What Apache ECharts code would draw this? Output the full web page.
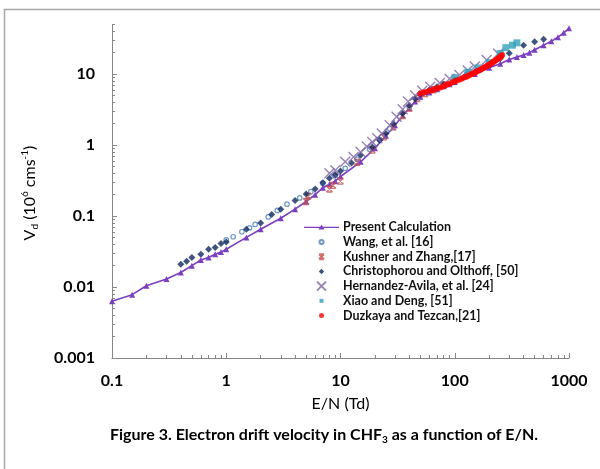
<!DOCTYPE html>
<html><head><meta charset="utf-8">
<script src="https://cdn.jsdelivr.net/npm/echarts@6/dist/echarts.min.js"></script>
<style>html,body{margin:0;padding:0;background:#fff}#c{width:600px;height:469px}</style>
</head><body><div id="c"></div>
<script>
// ---- data ----
const presentX = [0.1,0.15,0.2,0.3,0.4,0.5,0.6,0.7,0.8,0.9,1,1.5,2,3,4,5,6,7,8,9,10,15,20,25,30,35,40,45,50,60,70,80,90,100,150,200,250,300,350,400,450,500,600,700,800,900,1000];
const presentY = [0.0063,0.0078,0.0104,0.013,0.016,0.020,0.024,0.026,0.029,0.031,0.034,0.050,0.065,0.093,0.125,0.16,0.20,0.25,0.28,0.31,0.36,0.58,0.9,1.35,1.9,2.6,3.3,4.1,4.8,5.5,6.1,6.7,7.2,7.7,10.0,12.3,14,16,17.3,18.5,20,22,25.5,29,33,38,44];

const wangX = [1.0,1.15,1.37,1.6,1.79,2.33,2.8,3.4,4.4,5.5,7,9,11,14,18,22,27,33,40];
const wangY = [0.046,0.051,0.060,0.068,0.076,0.097,0.12,0.147,0.18,0.22,0.29,0.37,0.47,0.63,0.87,1.2,1.7,2.5,3.4];

const kushX = [5,5.2,8,8.6,10,14,19,24,29,35,40,47,55,65,80];
const kushY = [0.16,0.19,0.24,0.27,0.31,0.57,0.85,1.3,1.8,2.6,3.3,4.5,5.3,6.0,7.0];

const chrisX = [0.4,0.45,0.5,0.6,0.7,0.8,0.9,1.0,1.5,2,2.5,3,4,5,6,7,8,9,10,12.5,15,19,22,25,29,35,40,45,50,60,70,80,100,125,150,200,250,300,400,500,600];
const chrisY = [0.021,0.023,0.026,0.029,0.034,0.036,0.041,0.043,0.065,0.08,0.105,0.125,0.165,0.205,0.24,0.295,0.34,0.38,0.43,0.56,0.72,0.94,1.17,1.45,2.0,2.8,3.6,4.5,5.2,6.0,6.6,7.2,8.3,9.5,10.8,13.5,16.5,19.6,25.5,28.5,31];

const hernX = [8,9,11,13,15,17,19,21,23,27,31,35,39,45,52,61,74,90,110,130,150,190,240];
const hernY = [0.40,0.44,0.58,0.68,0.8,0.95,1.1,1.25,1.45,1.9,2.5,3.2,4.1,5.0,5.8,6.6,7.5,8.6,9.7,11.2,12.8,15.8,19.3];

const xiaoX = [100,130,160,200,250,280,320,350];
const xiaoY = [8.9,10.6,12.2,14.5,19.5,23.5,25.5,27.5];

const duzX = [50,53,56,60,63,66,70,74,78,82,86,90,95,100,105,110,115,120,125,130,135,140,145,150,155,160,165,170,175,180,185,190,195,200,205,210,215,220,225,230,235,240,245,250,255,260];
const duzY = [5.3,5.5,5.6,5.8,5.9,6.1,6.3,6.4,6.6,6.9,7.1,7.3,7.6,7.9,8.1,8.4,8.6,8.9,9.1,9.4,9.7,10.0,10.2,10.5,10.8,11.1,11.3,11.7,12.0,12.3,12.6,12.9,13.2,13.5,13.8,14.2,14.6,15.0,15.4,15.8,16.2,16.6,17.0,17.5,18.0,18.5];

const seriesNames = ['Present Calculation','Wang, et al. [16]','Kushner and Zhang,[17]','Christophorou and Olthoff, [50]','Hernandez-Avila, et al. [24]','Xiao and Deng, [51]','Duzkaya and Tezcan,[21]'];

const xMajor = [0.1,1,10,100,1000];
const xTickLabels = ['0.1','1','10','100','1000'];
const yMajor = [0.001,0.01,0.1,1,10];
const yTickLabels = ['0.001','0.01','0.1','1','10'];
const xMinor = [];
[0.1,1,10,100].forEach(d => { for (let k = 2; k <= 9; k++) xMinor.push(+(d*k).toPrecision(3)); });
const yMinor = [];
[0.001,0.01,0.1,1,10].forEach(d => { for (let k = 2; k <= 9; k++) { const v = +(d*k).toPrecision(3); if (v <= 50) yMinor.push(v); } });

// ---- helpers ----
const zip = (xs, ys) => xs.map((x, i) => [x, ys[i]]);
const fmt = (majors, labels) => v => {
  const i = majors.findIndex(m => Math.abs(Math.log10(m) - Math.log10(v)) < 1e-6);
  return i >= 0 ? labels[i] : '';
};
const FONT = 'Lato';
const axisGray = '#868686';
const xPath = 'path://M0,0L10,10M10,0L0,10';
const starPath = 'path://M0,0L10,10M10,0L0,10M0,0L10,0M0,10L10,10';
// legend icons drawn inside a 35x10 box (the leading moves fix the box)
const BOX = 'M0,0M35,10';
const legendIcons = [
  'path://' + BOX + 'M0,4.3L35,4.3L35,5.7L0,5.7ZM17.5,2.2L20.5,7.2L14.5,7.2Z',
  'path://' + BOX + 'M19.5,5A2,2,0,1,1,15.5,5A2,2,0,1,1,19.5,5Z',
  'path://' + BOX + 'M15,2.5L20,7.5M20,2.5L15,7.5M15,2.5L20,2.5M15,7.5L20,7.5',
  'path://' + BOX + 'M17.5,2.3L20.2,5L17.5,7.7L14.8,5Z',
  'path://' + BOX + 'M13,0.5L22,9.5M22,0.5L13,9.5',
  'path://' + BOX + 'M15.5,3L19.5,3L19.5,7L15.5,7Z',
  'path://' + BOX + 'M20,5A2.5,2.5,0,1,1,15,5A2.5,2.5,0,1,1,20,5Z'
];

const chart = echarts.init(document.getElementById('c'), null, {renderer: 'canvas'});

chart.setOption({
  animation: false,
  backgroundColor: '#fff',
  grid: {left: 112, right: 31, top: 24.4, bottom: 111, containLabel: false},
  xAxis: [
    {type: 'log', logBase: 10, min: 0.1, max: 1000, position: 'bottom',
     axisLine: {lineStyle: {color: axisGray, width: 1}},
     axisTick: {inside: true, length: 5, customValues: xMajor, lineStyle: {color: axisGray}},
     axisLabel: {customValues: xMajor, formatter: fmt(xMajor, xTickLabels), margin: 15,
                 fontFamily: FONT, fontWeight: 'bold', fontSize: 16, color: '#000'},
     splitLine: {show: false}, minorTick: {show: false}, minorSplitLine: {show: false},
     name: 'E/N (Td)', nameLocation: 'middle', nameGap: 38,
     nameTextStyle: {fontFamily: FONT, fontSize: 16, color: '#000'}},
    {type: 'log', logBase: 10, min: 0.1, max: 1000, position: 'bottom',
     axisLine: {show: false}, axisLabel: {show: false},
     axisTick: {inside: true, length: 3, customValues: xMinor, lineStyle: {color: axisGray}},
     splitLine: {show: false}}
  ],
  yAxis: [
    {type: 'log', logBase: 10, min: 0.001, max: 50, position: 'left',
     axisLine: {show: true, lineStyle: {color: axisGray, width: 1}},
     axisTick: {show: true, inside: true, length: 5, customValues: yMajor, lineStyle: {color: axisGray}},
     axisLabel: {customValues: yMajor, formatter: fmt(yMajor, yTickLabels), margin: 17,
                 fontFamily: FONT, fontWeight: 'bold', fontSize: 16, color: '#000'},
     splitLine: {show: false}, minorTick: {show: false}},
    {type: 'log', logBase: 10, min: 0.001, max: 50, position: 'left',
     axisLine: {show: false}, axisLabel: {show: false},
     axisTick: {show: true, inside: true, length: 3, customValues: yMinor, lineStyle: {color: axisGray}},
     splitLine: {show: false}}
  ],
  legend: {
    orient: 'vertical', left: 298, top: 215, itemWidth: 35, itemHeight: 10, itemGap: 0,
    data: seriesNames.map((n, i) => ({name: n, icon: legendIcons[i]})),
    textStyle: {fontFamily: FONT, fontWeight: 'bold', fontSize: 12.5, color: '#111', lineHeight: 14.7, padding: [0,0,0,-1]}
  },
  series: [
    {name: seriesNames[0], type: 'line', data: zip(presentX, presentY),
     symbol: 'triangle', symbolSize: 6, showSymbol: true,
     lineStyle: {color: '#7B3FBF', width: 1.6}, itemStyle: {color: '#7B3FBF'}, z: 2},
    {name: seriesNames[1], type: 'scatter', data: zip(wangX, wangY),
     symbol: 'circle', symbolSize: 4.5,
     itemStyle: {color: '#fff', borderColor: '#4A7EBB', borderWidth: 1.2}, z: 3},
    {name: seriesNames[2], type: 'scatter', data: zip(kushX, kushY),
     symbol: starPath, symbolSize: 6,
     itemStyle: {color: 'rgba(0,0,0,0)', borderColor: '#C0504D', borderWidth: 1.3}, z: 4},
    {name: seriesNames[3], type: 'scatter', data: zip(chrisX, chrisY),
     symbol: 'diamond', symbolSize: 7,
     itemStyle: {color: '#0F2A5E'}, z: 5},
    {name: seriesNames[4], type: 'scatter', data: zip(hernX, hernY),
     symbol: xPath, symbolSize: 10,
     itemStyle: {color: 'rgba(0,0,0,0)', borderColor: '#8064A2', borderWidth: 1.4}, z: 6},
    {name: seriesNames[5], type: 'scatter', data: zip(xiaoX, xiaoY),
     symbol: 'rect', symbolSize: 7,
     itemStyle: {color: '#31A0B8'}, z: 7},
    {name: seriesNames[6], type: 'scatter', data: zip(duzX, duzY),
     symbol: 'circle', symbolSize: 6,
     itemStyle: {color: '#FF0000'}, z: 8}
  ],
  graphic: [
    {type: 'polyline', shape: {points: [[4.5, 470], [4.5, 9.5], [600, 9.5]]},
     style: {stroke: '#A6A6A6', lineWidth: 1.5, fill: null}, silent: true},
    {type: 'text', x: 30, y: 193, rotation: Math.PI / 2,
     style: {text: '{v|V}{s|d}{v| (10}{p|6}{v| cms}{p|-1}{v|)}', align: 'center', verticalAlign: 'middle',
       rich: {
         v: {fontFamily: FONT, fontSize: 16, color: '#000', lineHeight: 20, verticalAlign: 'middle'},
         s: {fontFamily: FONT, fontSize: 10, color: '#000', lineHeight: 10, verticalAlign: 'bottom'},
         p: {fontFamily: FONT, fontSize: 10, color: '#000', lineHeight: 10, verticalAlign: 'top'}
       }}},
    {type: 'text', x: 324, y: 435,
     style: {text: '{b|Figure 3. Electron drift velocity in CHF}{s|3}{b| as a function of E/N.}', align: 'center', verticalAlign: 'middle',
       rich: {
         b: {fontFamily: FONT, fontSize: 16, fontWeight: 'bold', color: '#000', lineHeight: 20},
         s: {fontFamily: FONT, fontSize: 10, fontWeight: 'bold', color: '#000', lineHeight: 10, verticalAlign: 'bottom'}
       }}}
  ]
});
</script></body></html>
